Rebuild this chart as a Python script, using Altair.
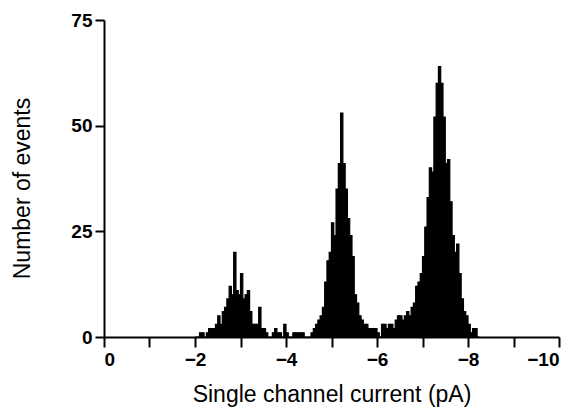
import altair as alt
import pandas as pd

# Histogram of single channel current amplitudes (pA), bin width 0.05 pA
FIRST_EDGE = 2.00
BIN_WIDTH = 0.05
counts = [
    0, 0, 1, 1, 0, 1, 2, 2, 2, 3,          # 2.00-2.45
    5, 3, 6, 7, 9, 12, 10, 20, 11, 10,     # 2.50-2.95
    15, 9, 10, 11, 6, 3, 3, 3, 7, 2,       # 3.00-3.45
    2, 1, 0, 0, 1, 2, 1, 1, 0, 3,          # 3.50-3.95
    1, 0, 0, 1, 1, 1, 1, 1, 0, 0,          # 4.00-4.45
    0, 1, 2, 3, 4, 5, 7, 13, 18, 20,       # 4.50-4.95
    27, 24, 35, 41, 53, 41, 35, 28, 24, 19,  # 5.00-5.45
    10, 8, 5, 4, 3, 3, 2, 2, 2, 2,         # 5.50-5.95
    1, 0, 3, 3, 2, 3, 3, 2, 4, 5,          # 6.00-6.45
    5, 4, 5, 6, 5, 7, 8, 12, 13, 15,       # 6.50-6.95
    19, 26, 33, 40, 39, 52, 60, 64, 60, 52,  # 7.00-7.45
    41, 42, 32, 24, 20, 22, 15, 9, 6, 5,   # 7.50-7.95
    3, 1, 2, 2, 0,                         # 8.00-8.20
]
x_ticks = [0, -1, -2, -3, -4, -5, -6, -7, -8, -9, -10]
y_ticks = [0, 25, 50, 75]

df = pd.DataFrame({
    "start": [-(FIRST_EDGE + BIN_WIDTH * i) for i in range(len(counts))],
    "end": [-(FIRST_EDGE + BIN_WIDTH * (i + 1)) for i in range(len(counts))],
    "n": counts,
})

FONT = "Liberation Sans"

chart = alt.Chart(df).mark_rect(color="black", stroke="black", strokeWidth=1.2).encode(
    x=alt.X(
        "start:Q",
        scale=alt.Scale(domain=[0, -10], nice=False, zero=False),
        axis=alt.Axis(
            values=x_ticks,
            labelExpr="datum.value % 2 == 0 ? datum.label : ''",
            tickSize=10,
            labelPadding=3,
            titlePadding=14,
        ),
        title="Single channel current (pA)",
    ),
    x2="end:Q",
    y=alt.Y(
        "n:Q",
        scale=alt.Scale(domain=[0, 75], nice=False),
        axis=alt.Axis(values=y_ticks, tickSize=9, labelPadding=3,
                      titlePadding=36, titleY=168),
        title="Number of events",
    ),
    y2=alt.datum(0),
).properties(
    width=455,
    height=317,
    autosize=alt.AutoSizeParams(type="none"),
    padding={"left": 96, "top": 12, "right": 11, "bottom": 76},
).configure_view(
    stroke=None,
).configure_axis(
    grid=False,
    domainColor="black",
    domainWidth=2,
    tickColor="black",
    tickWidth=2,
    labelColor="black",
    labelFont=FONT,
    labelFontSize=19,
    labelFontWeight="bold",
    titleColor="black",
    titleFont=FONT,
    titleFontSize=23,
    titleFontWeight="normal",
)

chart.save("out.html", embed_options={"renderer": "svg", "actions": False})
